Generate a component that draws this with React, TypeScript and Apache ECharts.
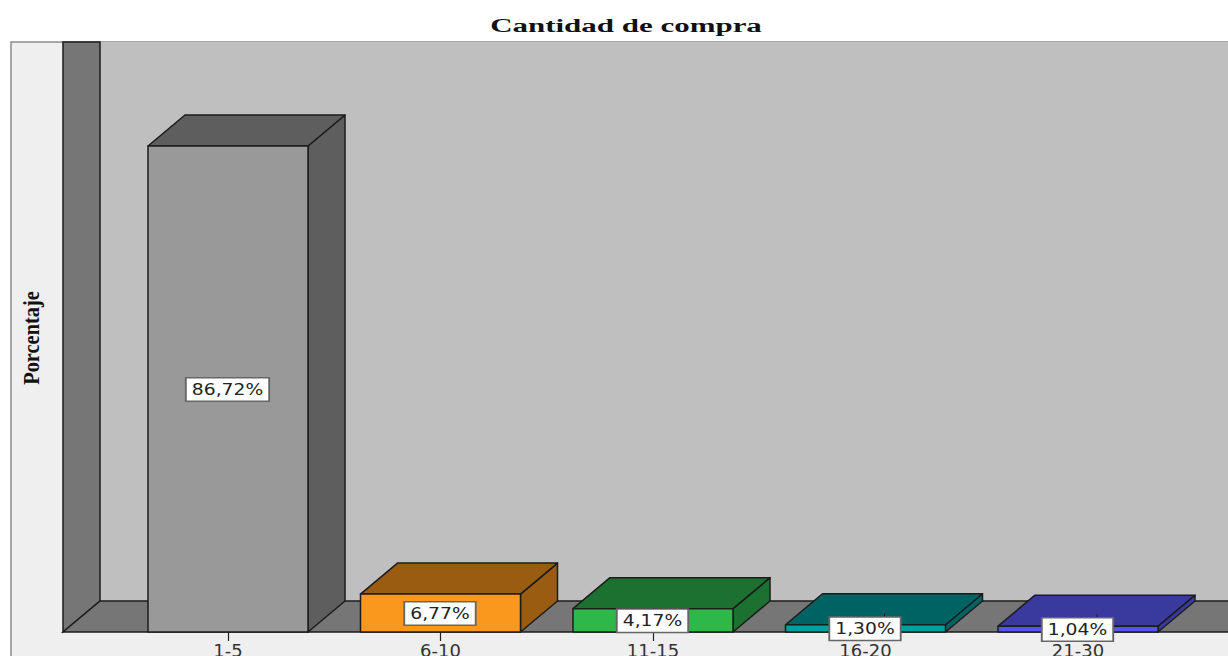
import React, { useEffect, useRef } from "react";
import * as echarts from "echarts";

const categories = ["1-5", "6-10", "11-15", "16-20", "21-30"];
const percentages = [86.72, 6.77, 4.17, 1.3, 1.04];
const frontColors = ["#999999", "#f9981c", "#2eb84a", "#009e9e", "#5555f5"];
const depthColors = ["#5e5e5e", "#995c10", "#1c7030", "#006363", "#3a3a9e"];

const W = 1228;
const H = 656;
const BASE_Y = 632;
const TOP_Y = 42;
const DX = 37;
const DY = -31;
const LINE = "#1c1c1c";

const renderBar = (params: any, api: any) => {
  const i = api.value(0);
  const v = api.value(1);
  const top = api.coord([i, v]);
  const base = api.coord([i, 0]);
  const half = (api.size([1, 0])[0] * 0.753) / 2;
  const l = top[0] - half;
  const r = top[0] + half;
  const t = top[1];
  const b = base[1];
  const edge = { stroke: LINE, lineWidth: 1.5, lineJoin: "round" };
  const midY = (t + b) / 2;
  const text = v.toFixed(2).replace(".", ",") + "%";
  return {
    type: "group",
    children: [
      {
        type: "polygon",
        shape: { points: [[r, t], [r + DX, t + DY], [r + DX, b + DY], [r, b]] },
        style: { fill: depthColors[i], ...edge },
      },
      {
        type: "polygon",
        shape: { points: [[l, t], [l + DX, t + DY], [r + DX, t + DY], [r, t]] },
        style: { fill: depthColors[i], ...edge },
      },
      {
        type: "rect",
        shape: { x: l, y: t, width: r - l, height: b - t },
        style: { fill: frontColors[i], ...edge },
      },
      {
        type: "line",
        shape: { x1: top[0] + 19, y1: midY - 15, x2: top[0] + 19, y2: midY },
        style: { stroke: v < 2 ? LINE : "transparent", lineWidth: 1 },
      },
      {
        type: "text",
        x: top[0] - 0.5,
        y: midY + 0.5,
        scaleX: 1.25,
        style: {
          text,
          x: 0,
          y: 0,
          align: "center",
          verticalAlign: "middle",
          fontFamily: "DejaVu Sans",
          fontSize: 15,
          fill: "#222222",
          backgroundColor: "#ffffff",
          borderColor: "#666666",
          borderWidth: 1.5,
          padding: [4, 4, 3, 4],
        },
      },
    ],
  };
};

export default function App() {
  const ref = useRef<HTMLDivElement>(null);

  useEffect(() => {
    document.body.style.margin = "0";
    const chart = echarts.init(ref.current!, undefined, { renderer: "svg" });
    const wallFill = "#767676";
    const wallEdge = { stroke: LINE, lineWidth: 1.5 };
    chart.setOption({
      animation: false,
      backgroundColor: "#ffffff",
      grid: {
        left: 121.75,
        width: 1062.5,
        top: TOP_Y,
        height: BASE_Y - TOP_Y,
        outerBoundsMode: "none",
      },
      xAxis: {
        type: "category",
        data: categories,
        axisLine: { show: false },
        axisTick: {
          show: true,
          alignWithLabel: true,
          length: 9,
          lineStyle: { color: "#222222", width: 1.2 },
        },
        axisLabel: {
          margin: 9,
          interval: 0,
          hideOverlap: false,
          color: "#333333",
          fontFamily: "DejaVu Sans",
          fontSize: 18,
        },
      },
      yAxis: { type: "value", min: 0, max: 105.28, show: false },
      graphic: {
        elements: [
          {
            type: "rect",
            z: -10,
            shape: { x: 11, y: TOP_Y, width: W, height: H },
            style: { fill: "#efefef", stroke: "#8c8c8c", lineWidth: 1.5 },
          },
          {
            type: "rect",
            z: -9,
            shape: { x: 100, y: TOP_Y, width: W, height: BASE_Y + DY - TOP_Y },
            style: { fill: "#bfbfbf" },
          },
          {
            type: "polygon",
            z: -8,
            shape: {
              points: [
                [63, TOP_Y],
                [100, TOP_Y],
                [100, BASE_Y + DY],
                [63, BASE_Y],
              ],
            },
            style: { fill: wallFill, ...wallEdge },
          },
          {
            type: "polygon",
            z: -7,
            shape: {
              points: [
                [63, BASE_Y],
                [100, BASE_Y + DY],
                [W + 40, BASE_Y + DY],
                [W + 40, BASE_Y],
              ],
            },
            style: { fill: wallFill, ...wallEdge },
          },
          {
            type: "rect",
            z: -6,
            shape: { x: 0, y: 0, width: W, height: TOP_Y - 1 },
            style: { fill: "#ffffff" },
          },
          {
            type: "text",
            z: 5,
            x: 626,
            y: 26,
            scaleX: 1.72,
            style: {
              text: "Cantidad de compra",
              x: 0,
              y: 0,
              align: "center",
              verticalAlign: "middle",
              fontFamily: "Liberation Serif",
              fontWeight: "bold",
              fontSize: 18,
              fill: "#111111",
            },
          },
          {
            type: "text",
            z: 5,
            x: 31,
            y: 338,
            rotation: Math.PI / 2,
            scaleX: 0.85,
            scaleY: 1,
            style: {
              text: "Porcentaje",
              x: 0,
              y: 0,
              align: "center",
              verticalAlign: "middle",
              fontFamily: "Liberation Serif",
              fontWeight: "bold",
              fontSize: 24,
              fill: "#111111",
            },
          },
        ],
      },
      series: [
        {
          type: "custom",
          z: 10,
          clip: false,
          renderItem: renderBar,
          encode: { x: 0, y: 1 },
          data: percentages.map((v, i) => [i, v]),
        },
      ],
    });
    return () => chart.dispose();
  }, []);

  return <div ref={ref} style={{ width: W, height: H }} />;
}
